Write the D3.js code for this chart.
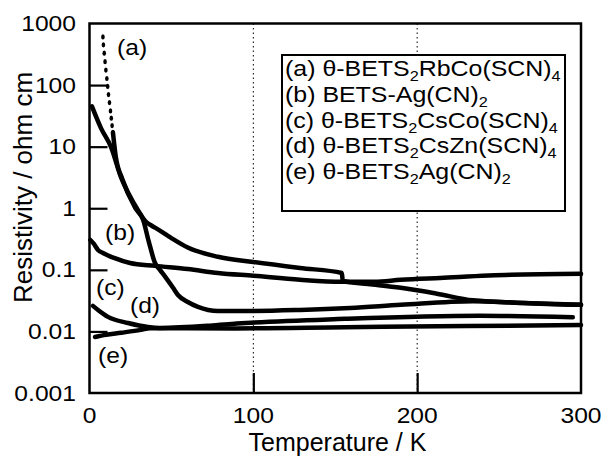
<!DOCTYPE html>
<html><head><meta charset="utf-8">
<script src="https://cdn.jsdelivr.net/npm/d3@7"></script>
<style>
body{margin:0;background:#fff}
text{font-family:"Liberation Sans",Arial,Helvetica,sans-serif;fill:#000}
</style>
</head><body>
<svg id="c" width="603" height="456"></svg>
<script>
// ---------- data ----------
const xTicks = [0, 100, 200, 300];
const xTickLabels = ["0", "100", "200", "300"];
const yTicks = [1000, 100, 10, 1, 0.1, 0.01, 0.001];
const yTickLabels = ["1000", "100", "10", "1", "0.1", "0.01", "0.001"];
const gridT = [100, 200];

// (a) dotted low-T part, then continuous part
const aDotsT = [8.2, 8.5, 9.0, 9.5, 10.0, 10.6, 11.1, 11.6, 12.2, 12.8, 13.3, 13.8, 14.3];
const aDotsR = [605, 450, 330, 240, 175, 128, 95, 70, 52, 38, 29, 22, 17];
const aT = [14.3, 16, 20, 28, 32.7, 36.3, 40, 43, 46.7, 51, 54, 60, 66.2, 78.4, 100, 128.5, 159, 190, 234, 265, 300];
const aR = [17, 7, 3, 1.0, 0.65, 0.28, 0.129, 0.10, 0.074, 0.051, 0.039, 0.030, 0.025, 0.0215, 0.0215, 0.0223, 0.024, 0.027, 0.031, 0.029, 0.027];

const bT = [1.5, 7, 13.1, 19.2, 24, 29.6, 34.5, 38, 42, 49.8, 60, 78.4, 100, 128.5, 154, 154.6, 170, 190, 212, 234, 265, 300];
const bR = [45, 20, 9.9, 3.2, 1.7, 0.93, 0.60, 0.52, 0.45, 0.33, 0.23, 0.163, 0.134, 0.107, 0.089, 0.066, 0.059, 0.051, 0.041, 0.032, 0.029, 0.027];

const cT = [0.5, 2.7, 5.2, 8.2, 15, 24.7, 40, 60, 78.4, 100, 128.5, 154, 174, 190, 214, 257, 300];
const cR = [0.305, 0.263, 0.21, 0.188, 0.156, 0.129, 0.116, 0.103, 0.089, 0.080, 0.069, 0.064, 0.064, 0.069, 0.074, 0.083, 0.086];

const dT = [2.1, 5.2, 11.3, 23.5, 35.7, 43, 73.5, 90, 156, 238, 295];
const dR = [0.026, 0.0223, 0.0172, 0.0137, 0.0118, 0.0114, 0.0124, 0.0134, 0.0160, 0.0180, 0.0170];

const eT = [3.4, 10, 19.2, 31.4, 37, 60, 89, 156, 230, 300];
const eR = [0.0081, 0.0088, 0.0095, 0.0106, 0.0113, 0.0113, 0.0112, 0.0117, 0.0122, 0.0127];

const seriesNames = ["(a)", "(b)", "(c)", "(d)", "(e)"];
const labelT = [16.8, 9.5, 4.0, 24.7, 5.2];
const labelR = [308, 0.305, 0.039, 0.020, 0.0031];

const legendParts = [
  [["(a) θ-BETS", 0], ["2", 1], ["RbCo(SCN)", 0], ["4", 1]],
  [["(b) BETS-Ag(CN)", 0], ["2", 1]],
  [["(c) θ-BETS", 0], ["2", 1], ["CsCo(SCN)", 0], ["4", 1]],
  [["(d) θ-BETS", 0], ["2", 1], ["CsZn(SCN)", 0], ["4", 1]],
  [["(e) θ-BETS", 0], ["2", 1], ["Ag(CN)", 0], ["2", 1]]
];

// ---------- drawing ----------
const svg = d3.select("#c");
const X0 = 89.5, X1 = 581, Y0 = 393, Y1 = 23.5;
const x = d3.scaleLinear().domain([0, 300]).range([X0, X1]);
const y = d3.scaleLog().domain([0.001, 1000]).range([Y0, Y1]);

svg.append("rect").attr("width", 603).attr("height", 456).attr("fill", "#fff");

// dotted grid
svg.selectAll(".grid").data(gridT).enter().append("line")
  .attr("x1", d => x(d)).attr("x2", d => x(d))
  .attr("y1", Y1).attr("y2", Y0)
  .attr("stroke", "#000").attr("stroke-width", 1)
  .attr("stroke-dasharray", "1.5,3");

// axes (inward ticks)
const gy = svg.append("g").attr("transform", `translate(${X0},0)`)
  .call(d3.axisLeft(y).tickValues(yTicks.slice(1, -1)).tickSize(-18).tickFormat(""));
gy.select(".domain").remove();
gy.selectAll("line").attr("stroke", "#000").attr("stroke-width", 2.2);

const gx = svg.append("g").attr("transform", `translate(0,${Y0})`)
  .call(d3.axisBottom(x).tickValues(gridT).tickSize(-20).tickFormat(""));
gx.select(".domain").remove();
gx.selectAll("line").attr("stroke", "#000").attr("stroke-width", 2.2);

// frame
svg.append("rect").attr("x", X0).attr("y", Y1).attr("width", X1 - X0).attr("height", Y0 - Y1)
  .attr("fill", "none").attr("stroke", "#000").attr("stroke-width", 2.5);

// tick labels
yTicks.forEach((v, i) => {
  svg.append("text").attr("transform", `translate(76,${y(v) + 7.5}) scale(1.12,1)`)
    .attr("text-anchor", "end").style("font-size", "22px").text(yTickLabels[i]);
});
xTicks.forEach((v, i) => {
  svg.append("text").attr("transform", `translate(${x(v)},423) scale(1.12,1)`)
    .attr("text-anchor", "middle").style("font-size", "22px").text(xTickLabels[i]);
});

// axis titles
svg.append("text").attr("x", 337.5).attr("y", 450.5).attr("text-anchor", "middle")
  .style("font-size", "25px").text("Temperature / K");
svg.append("text").attr("transform", "translate(32,187.5) rotate(-90)").attr("text-anchor", "middle")
  .style("font-size", "26px").text("Resistivity / ohm cm");

// curves
const line = d3.line().x(d => x(d[0])).y(d => y(d[1])).curve(d3.curveMonotoneX);
const zip = (T, R) => T.map((t, i) => [t, R[i]]);
const curves = [zip(aT, aR), zip(bT, bR), zip(cT, cR), zip(dT, dR), zip(eT, eR)];
svg.selectAll(".curve").data(curves).enter().append("path")
  .attr("d", line).attr("fill", "none").attr("stroke", "#000")
  .attr("stroke-width", 4.5).attr("stroke-linecap", "round").attr("stroke-linejoin", "round");

svg.selectAll(".adot").data(zip(aDotsT, aDotsR)).enter().append("ellipse")
  .attr("cx", d => x(d[0])).attr("cy", d => y(d[1]))
  .attr("rx", 1.8).attr("ry", 2.6).attr("fill", "#000");

// curve labels
seriesNames.forEach((n, i) => {
  svg.append("text").attr("transform", `translate(${x(labelT[i])},${y(labelR[i])}) scale(1.12,1)`)
    .style("font-size", "22px").text(n);
});

// legend
svg.append("rect").attr("x", 282).attr("y", 55).attr("width", 283).attr("height", 156)
  .attr("fill", "#fff").attr("stroke", "#000").attr("stroke-width", 2);
legendParts.forEach((parts, i) => {
  const t = svg.append("text").attr("transform", `translate(285,${76 + i * 25.75}) scale(1.16,1)`)
    .style("font-size", "21.5px");
  let sub = false;
  parts.forEach(p => {
    const ts = t.append("tspan").text(p[0]);
    if (p[1] && !sub) { ts.attr("dy", 5).style("font-size", "14px"); sub = true; }
    else if (!p[1] && sub) { ts.attr("dy", -5); sub = false; }
    else if (p[1]) { ts.style("font-size", "14px"); }
  });
});
</script>
</body></html>
